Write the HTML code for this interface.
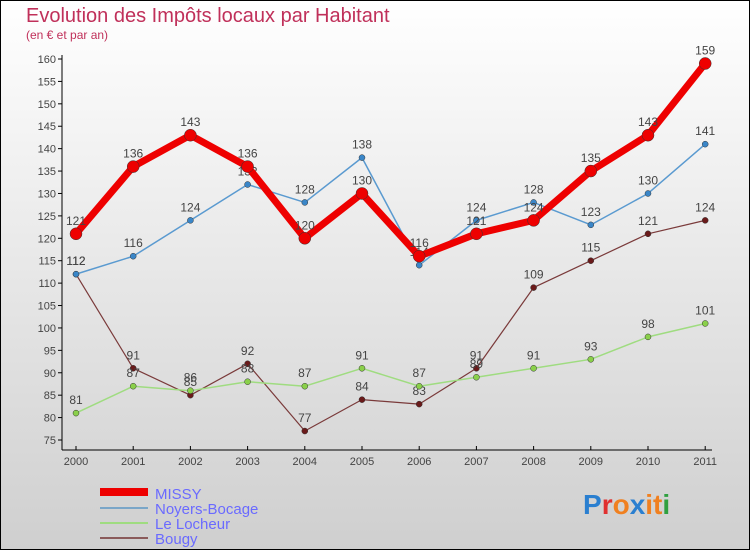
<!DOCTYPE html>
<html><head><meta charset="utf-8"><style>
body{margin:0;}
#c{width:750px;height:550px;position:relative;overflow:hidden;}
svg{display:block;font-family:"Liberation Sans",sans-serif;}
</style></head><body>
<div id="c">
<svg id="s" width="750" height="550" xmlns="http://www.w3.org/2000/svg">
<defs><linearGradient id="bg" x1="0" y1="0" x2="0" y2="1"><stop offset="0" stop-color="#ffffff"/><stop offset="1" stop-color="#cfcfcf"/></linearGradient></defs>
<rect x="0.5" y="0.5" width="749" height="549" fill="url(#bg)" stroke="#000"/>
<text x="26" y="22" font-size="20" fill="#c0305a">Evolution des Impôts locaux par Habitant</text>
<text x="26" y="39" font-size="12" fill="#c0305a">(en € et par an)</text>
<g id="axes"></g><g id="series"></g>
<g>
<rect x="100" y="488" width="48" height="8" fill="#e00"/>
<text x="155" y="499" font-size="15" fill="#6a6aff">MISSY</text>
<line x1="100" y1="508" x2="148" y2="508" stroke="#7aa6c8" stroke-width="2"/>
<text x="155" y="514" font-size="15" fill="#6a6aff">Noyers-Bocage</text>
<line x1="100" y1="523" x2="148" y2="523" stroke="#9fdc80" stroke-width="2"/>
<text x="155" y="529" font-size="15" fill="#6a6aff">Le Locheur</text>
<line x1="100" y1="538" x2="148" y2="538" stroke="#8a5a5a" stroke-width="2"/>
<text x="155" y="544" font-size="15" fill="#6a6aff">Bougy</text>
</g>
<g font-size="28" font-weight="bold">
<text x="583" y="514"><tspan fill="#2a7fd0">P</tspan><tspan fill="#e03030">r</tspan><tspan fill="#f08020">o</tspan><tspan fill="#2a7fd0">x</tspan><tspan fill="#f08020">it</tspan><tspan fill="#30a040">i</tspan></text>
</g>
</svg></div>
<script>
const years=["2000","2001","2002","2003","2004","2005","2006","2007","2008","2009","2010","2011"];
const missy=[121,136,143,136,120,130,116,121,124,135,143,159];
const noyers=[112,116,124,132,128,138,114,124,128,123,130,141];
const locheur=[81,87,86,88,87,91,87,89,91,93,98,101];
const bougy=[112,91,85,92,77,84,83,91,109,115,121,124];
const yTicks=[75,80,85,90,95,100,105,110,115,120,125,130,135,140,145,150,155,160];
const NS="http://www.w3.org/2000/svg";
function X(i){return 76+i*57.2;}
function Y(v){return 440-(v-75)*(381/85);}
function mk(t,a,p){const e=document.createElementNS(NS,t);for(const k in a)e.setAttribute(k,a[k]);p.appendChild(e);return e;}
const ax=document.getElementById('axes');
const ya=mk('line',{x1:62,y1:55,x2:62,y2:450,stroke:'#000'},ax);


const xa=mk('line',{x1:62,y1:450,x2:712,y2:450,stroke:'#000'},ax);


yTicks.forEach(v=>{
 mk('line',{x1:58,y1:Y(v),x2:62,y2:Y(v),stroke:'#000'},ax);
 const t=mk('text',{x:56,y:Y(v)+4,'font-size':11,'text-anchor':'end',fill:'#444'},ax);
 t.textContent=v;
 
 
});
years.forEach((y,i)=>{
 mk('line',{x1:X(i),y1:446,x2:X(i),y2:450,stroke:'#000'},ax);
 const t=mk('text',{x:X(i),y:465,'font-size':11,'text-anchor':'middle',fill:'#444'},ax);
 t.textContent=y;
 
 
});
const sg=document.getElementById('series');
function draw(data,name,color,w,r,dot){
 const g=mk('g',{},sg);
 
 
 const p=mk('polyline',{points:data.map((v,i)=>X(i)+','+Y(v)).join(' '),fill:'none',stroke:color,'stroke-width':w,'stroke-linejoin':'round'},g);
 
 
 data.forEach((v,i)=>{
  const c=mk('circle',{cx:X(i),cy:Y(v),r:r,fill:dot,stroke:'#333','stroke-width':0.5},g);
  
  
  const t=mk('text',{x:X(i),y:Y(v)-9,'font-size':12,'text-anchor':'middle',fill:'#444'},g);
  t.textContent=v;
  
  
 });
}
draw(bougy,'bougy','#7a3a3a',1.2,3,'#6a1a1a');
draw(locheur,'locheur','#9fdc80',1.5,3,'#8ad04a');
draw(noyers,'noyers','#5a9ad0',1.5,3,'#3a86c8');
draw(missy,'missy','#ee0000',7,6,'#ee0000');
</script>
</body></html>
